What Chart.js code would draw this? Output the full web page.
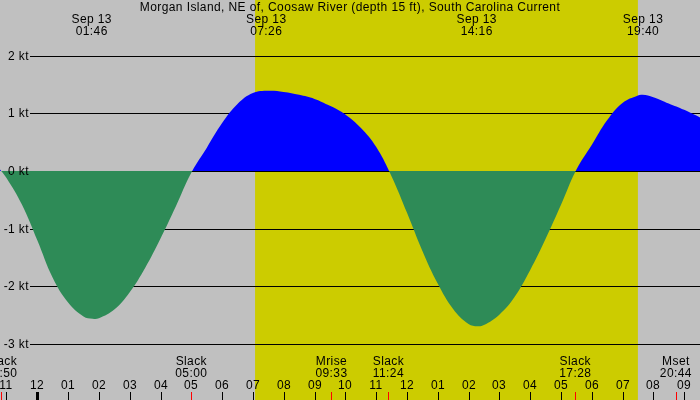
<!DOCTYPE html>
<html>
<head>
<meta charset="utf-8">
<script src="https://cdn.jsdelivr.net/npm/chart.js@4"></script>
<style>
    html, body { margin: 0; padding: 0; background: #c0c0c0; }
    #wrap { width: 700px; height: 400px; }
</style>
</head>
<body>
<div id="wrap"><canvas id="tideChart" width="700" height="400"></canvas></div>
<script>
// hours from midnight Sep 13 (negative = Sep 12)
const hours = [-1.25, -1.0, -0.5, 0, 0.5, 1.0, 1.5, 1.8, 2.0, 2.5, 3.0, 3.5, 4.0, 4.5, 5.0,
    5.5, 6.0, 6.5, 7.0, 7.5, 8.0, 8.5, 9.0, 9.5, 10.0, 10.5, 11.0, 11.5,
    12.0, 12.5, 13.0, 13.5, 14.0, 14.3, 14.5, 15.0, 15.5, 16.0, 16.5, 17.0, 17.5,
    18.0, 18.5, 19.0, 19.5, 19.65, 20.0, 20.5, 21.0, 21.55];
// current speed, kt (flood positive, ebb negative)
const speeds = [0.05, -0.12, -0.58, -1.2, -1.85, -2.28, -2.52, -2.56, -2.55, -2.4, -2.1, -1.68, -1.17, -0.61, -0.03,
    0.4, 0.83, 1.16, 1.35, 1.39, 1.37, 1.32, 1.25, 1.13, 0.98, 0.75, 0.42, -0.09,
    -0.72, -1.38, -1.95, -2.39, -2.65, -2.69, -2.67, -2.49, -2.18, -1.72, -1.18, -0.59, 0.02,
    0.45, 0.88, 1.18, 1.31, 1.32, 1.28, 1.17, 1.06, 0.92];

const title = "Morgan Island, NE of, Coosaw River (depth 15 ft), South Carolina Current";
const yTicks = [2, 1, 0, -1, -2, -3];

const peakTimes = [1.767, 7.433, 14.267, 19.667];
const peakLabels = ["01:46", "07:26", "14:16", "19:40"];

const eventTimes = [-1.167, 5.0, 9.55, 11.4, 17.467, 20.733];
const eventNames = ["Slack", "Slack", "Mrise", "Slack", "Slack", "Mset"];
const eventLabels = ["22:50", "05:00", "09:33", "11:24", "17:28", "20:44"];

const hourTicks = [-1, 0, 1, 2, 3, 4, 5, 6, 7, 8, 9, 10, 11, 12, 13, 14, 15, 16, 17, 18, 19, 20, 21];
const hourLabels = ["11", "12", "01", "02", "03", "04", "05", "06", "07", "08", "09", "10", "11",
    "12", "01", "02", "03", "04", "05", "06", "07", "08", "09"];

const sunrise = 7.07;
const sunset = 19.5;

const FONT = "12px 'Liberation Sans', Arial, sans-serif";

function textSetup(ctx, align) {
    ctx.font = FONT;
    ctx.fillStyle = "#000";
    ctx.textAlign = align;
    ctx.textBaseline = "middle";
    if ("letterSpacing" in ctx) ctx.letterSpacing = "0.4px";
}

const backdrop = {
    id: "backdrop",
    beforeDraw(chart) {
        const { ctx, scales: { x, y } } = chart;
        ctx.save();
        ctx.fillStyle = "#c0c0c0";
        ctx.fillRect(0, 0, chart.width, chart.height);
        const x0 = x.getPixelForValue(sunrise);
        const x1 = x.getPixelForValue(sunset);
        ctx.fillStyle = "#cccc00";
        ctx.fillRect(x0, 0, x1 - x0, chart.height);

        ctx.strokeStyle = "#000";
        ctx.lineWidth = 1;
        yTicks.forEach(v => {
            const py = Math.round(y.getPixelForValue(v)) + 0.5;
            ctx.beginPath();
            ctx.moveTo(30, py);
            ctx.lineTo(chart.width, py);
            ctx.stroke();
        });
        ctx.restore();
    },
    afterDraw(chart) {
        const { ctx, scales: { x, y } } = chart;
        ctx.save();

        textSetup(ctx, "right");
        yTicks.forEach(v => {
            ctx.fillText(v + " kt", 29, Math.round(y.getPixelForValue(v)) + 0.5);
        });

        textSetup(ctx, "center");
        ctx.fillText(title, 350, 8);
        peakTimes.forEach((t, i) => {
            const px = x.getPixelForValue(t);
            ctx.fillText("Sep 13", px, 20);
            ctx.fillText(peakLabels[i], px, 32);
        });

        eventTimes.forEach((t, i) => {
            const px = x.getPixelForValue(t);
            ctx.fillText(eventNames[i], px, 362);
            ctx.fillText(eventLabels[i], px, 374);
        });

        hourTicks.forEach((t, i) => {
            const px = Math.round(x.getPixelForValue(t));
            ctx.fillText(hourLabels[i], px, 386);
            if (t === 0) {
                ctx.fillRect(px - 1, 392, 3, 8);
            } else {
                ctx.fillRect(px, 392, 1, 8);
            }
        });

        ctx.fillStyle = "#ff0000";
        eventTimes.forEach(t => {
            const px = Math.round(x.getPixelForValue(t));
            ctx.fillRect(px, 392, 1, 8);
        });
        ctx.restore();
    }
};

window.addEventListener("load", () => {
    const points = hours.map((h, i) => ({ x: h, y: speeds[i] }));
    new Chart(document.getElementById("tideChart"), {
        type: "line",
        data: {
            datasets: [{
                data: points,
                borderWidth: 0,
                borderColor: "rgba(0,0,0,0)",
                pointRadius: 0,
                tension: 0.4,
                fill: { target: "origin", above: "#0000ff", below: "#2e8b57" }
            }]
        },
        options: {
            responsive: false,
            animation: false,
            layout: { padding: 0 },
            scales: {
                x: { type: "linear", min: -1.211, max: 21.516, display: false },
                y: { min: -3.969, max: 2.964, display: false }
            },
            plugins: { legend: { display: false }, tooltip: { enabled: false } }
        },
        plugins: [backdrop]
    });
});
</script>
</body>
</html>
